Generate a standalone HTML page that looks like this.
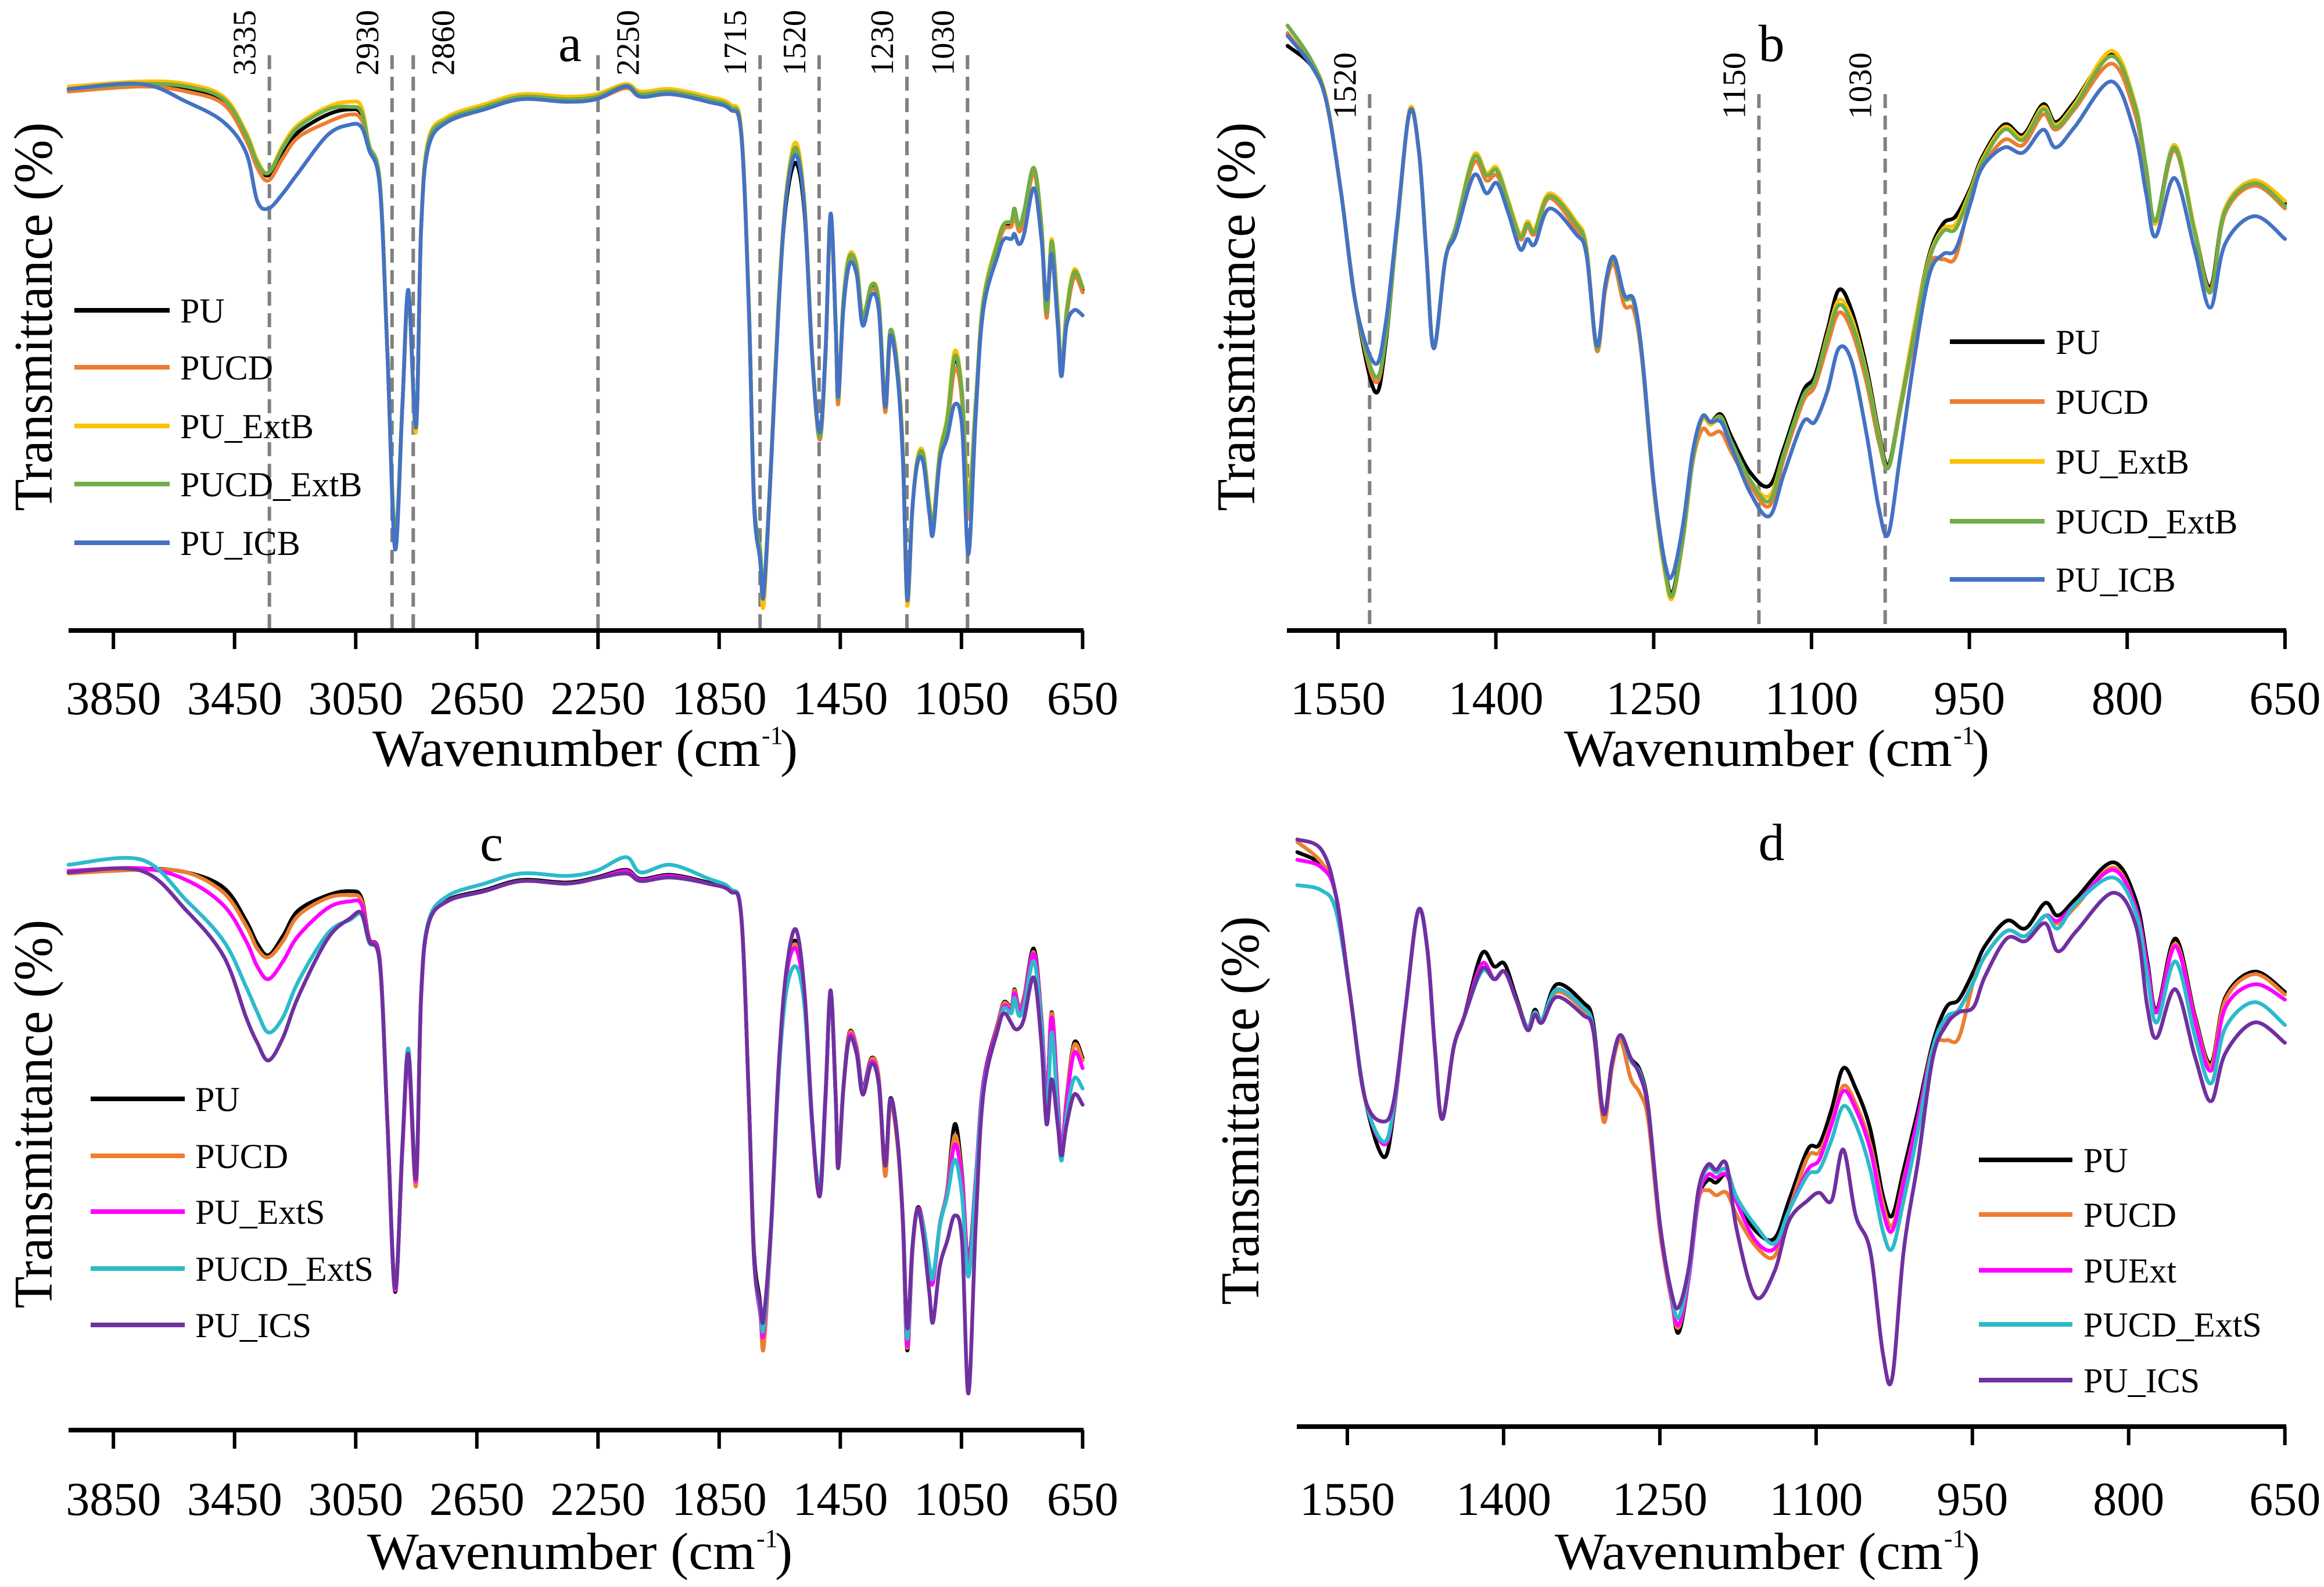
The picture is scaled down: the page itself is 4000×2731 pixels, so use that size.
<!DOCTYPE html>
<html><head><meta charset="utf-8"><title>FTIR spectra</title>
<style>
html,body{margin:0;padding:0;background:#fff;}
svg{display:block;}
text{font-family:"Liberation Serif",serif;fill:#000;}
</style></head>
<body>
<svg id="fig" xmlns="http://www.w3.org/2000/svg" width="4000" height="2731" viewBox="0 0 4000 2731"></svg>
<script>
// ---------- DATA ----------
const xa = [3998,3757,3609,3486,3412,3375,3338,3290,3240,3142,3068,3031,3006,2970,2945,2920,2896,2876,2851,2834,2810,2748,2625,2502,2354,2256,2158,2109,2010,1887,1814,1777,1752,1735,1715,1703,1678,1654,1629,1597,1568,1543,1518,1499,1482,1465,1457,1440,1420,1396,1376,1347,1323,1302,1285,1261,1243,1229,1212,1195,1176,1156,1144,1122,1097,1072,1048,1027,1003,978,929,909,885,875,860,843,811,786,769,752,732,720,703,678,650];
const aPU = [106.5,107.5,106.5,104,97,92,89.5,94,98,101.5,102.5,101.5,95,88,54,18,44,66.5,40,79,96,100.5,103,105,104.5,105,107.2,105.5,106,104.5,103,98,64,26,16,6,34,64,84,92,82,54,38,54,81.5,59,45,64,73,71,61,67.5,64,44,58.5,51,34,6,24,33,34,24,20,34,41,53.5,46,24,44,64,76,79.5,80,82.5,79,82,90.5,79,62,76,62,50.5,62,70,67];
const aPUCD = [106,107,106,103.5,96.5,91,88.5,93,97,100,101.5,100.5,95,88,54,17.5,44,66.5,39.5,79,96,100,102.5,104.5,104,104.5,106.7,105,105.5,104,102.5,97.5,64,26,15.5,5,34,64,85,94,83,54,37.5,54,81.5,59,44.5,64,73,70.5,60.5,67,63.5,43,57.5,50,33.5,5.5,24,33,34,24,20,34,40,51.5,45,22,44,63,75.5,79,79.5,82,78.5,81,90,78.5,61.5,75.5,61.5,50,61.5,69.5,66.5];
const aExtB = [107,108,107.5,105,98,92.5,90,95.5,99.5,103,104,103,95.5,88,54,17,44,66,39,79.5,96.5,101,103.5,105.5,105,105.5,107.5,106,106.5,105,103.5,98.5,64,25,15,5,34,65,86,96,84,55,38,55,82,60,46,65,74,72,62,68,65,45,59,52,35,5,24,34,35,25,21,35,42,55,47,26,45,65,77,80,80.5,83,79.5,82.5,91,80,63,77,63,51,63,71,67.5];
const aCDExtB = [106.5,107.5,107,104.5,97.5,92,90,95,99,102.5,103,102,95.5,88,54,19,44,66.5,40,79,96,100.5,103,105,104.5,105,107.2,105.5,106,104.5,103,98,64,26,16,8,34,64,85,95,83,54.5,38,54.5,81.5,59.5,45.5,64.5,73.5,71.5,61.5,68,64.5,44.5,59,51.5,34.5,7,24,33.5,34.5,24.5,20.5,34.5,41.5,54,46.5,24,44.5,64.5,76.5,80,80.5,83,79.5,82.5,91,79.5,62.5,76.5,62.5,51,62.5,70.5,67.5];
const aICB = [106.5,107.5,104,100,94,84.5,83,86,90,97.5,99.5,99,94.5,87,54,16,44,67,40,79,95,100,102.5,104.5,104,104.5,107,105,105.5,104,102.5,97.5,63,25,14,7,33,63,85,93.5,83,54,39,55,82,60,46,63,72,70,60,66,63,44,58,50,33,6,24,33,33,23,19,33,38,44.5,40,15,42,63,74,77,77,78,76,78,87,77,65,74,60,50,60,63,62];

const cPU = [109.7,110.4,109.7,106.7,100.2,95.7,93.4,97.2,102.2,105.2,106,104.7,96.7,92.2,60.2,27.2,55.2,73.2,48.7,85.2,99.7,104.2,106.2,108.2,107.7,108.7,110.2,108.4,109.2,107.7,106.2,101.2,65.2,35.2,25.2,17.2,40.2,70.2,89.2,96.2,85.2,60.2,46.2,65.2,86.2,65.2,51.7,67.2,78.2,75.2,67.2,73.2,69.2,51.7,65.2,57.2,40.2,15.7,35.2,43.7,40.2,32.2,29.2,40.2,47.2,60.2,50.2,33.2,49.2,68.2,80.2,84.2,83.2,86.7,83.2,85.2,94.7,81.2,65.2,82.2,65.2,54.7,65.2,76.2,73.2];
const cPUCD = [109.5,110.2,109.7,105.7,99.2,94.7,93,96.2,101.2,104.7,105.2,104.2,96.5,92,60,28,55,73,48,85,99.5,104,106,108,107.5,108.5,110,108.2,109,107.5,106,101,65,34,24,16.2,40,70,89,95.5,85,60,46,65,86,65,51.5,67,78,75,66.5,73,69,50,64,56,40,16.2,35,43,39,31.5,29,40,47,58,49.5,33,47,67.5,80,84,83,86.5,83,85,94,81,65,82,65,54.5,65,75.7,72.7];
const cExtS = [110,110.5,108.2,103.2,96.2,91.2,88.7,92.2,97.2,102.7,104,103.4,96.5,92,60,27.5,55,73,49,85,99.5,104,106,108,107.5,108.5,110,108.2,109,107.5,106,101,65,34,23,19.2,40,70,89,94.7,84.5,60,47,65,86,65,52,67,77.5,74.5,67,72.5,68.5,52,65,57,40.5,16.5,35.5,43.5,40,32,29,40,46.5,56.2,49,32.2,49,68,79.5,83.5,82.5,86,82.5,84.5,93.7,80.5,64.5,81.2,64.5,54.5,64.5,74.2,71.2];
const cCDExtS = [111.2,112.2,104.2,96.2,87.2,82.2,78.2,81.2,88.2,97.7,100.4,101.4,96,91.5,60,28,56,75,50,86,100,105,107.5,109.5,109,110,112.7,109.7,111.2,108.5,106.5,101,65,34,24,20.2,40,69,86,91.2,83.2,60,48,66,86,65,52,67,77,74,66.5,72,68,52,65,57,41,18,36,43,40,32.5,30,40,46,53.2,46,30.2,48,67,79,83,82,85,81.5,83.5,92.2,79.5,61.2,78.2,62,53,62,69.2,67.2];
const cICS = [109.7,110,102.2,93.2,81.2,76.2,72.7,77.2,85.2,96.7,100.7,101.7,96.2,91.5,60,28,55.5,74,49.5,85.5,99.5,104,106,108,107.5,108.5,109.5,108,108.7,107.5,106,101,65,34,25,22,41,71,90,98.5,86,61,46,66,86.5,65,51.5,67,77,74,66,72,68,52,65,57,41,20,36,43.5,38,27,21.2,32,37.2,42.2,37,7.2,40,66,79,82,80,79,79,81,89,76,60.2,69,60,54,60,66,64];

const xb = [1598,1575,1561,1547,1533,1515,1505,1494,1482,1473,1466,1459,1448,1438,1421,1409,1399,1388,1377,1370,1363,1349,1324,1314,1304,1296,1288,1278,1269,1261,1250,1239,1232,1222,1213,1204,1196,1186,1176,1158,1140,1126,1108,1097,1085,1074,1062,1048,1036,1027,1016,1002,988,975,963,949,938,917,899,880,868,850,815,793,782,773,755,736,721,707,679,650];
const bPU = [115,111,104,86,64,47,56,79,102,94,74,55.5,73,79,93,89.5,90.5,84,77.5,80,78.5,85.5,80,75,55.5,68,73.5,66,65,54,29,12,7.5,19,34,42,41,42.5,38,31,28.5,36,47,50,59,67,63,52,39,32.5,44,60,74,80,81.5,87,93,99.5,97.5,103.5,100,104,113.5,104,91,80.5,95.5,79,67.5,83,88.5,84];
const bPUCD = [117.5,111,104,86,64,49,57,79,102,94,74,55.5,73,79,92,88.5,89.5,84,77,79.5,78,85,79,74.5,55,67,72,64,63,53,28,11,7,18,33,39.5,38.5,39,35,28.5,24.5,34,45,48,56,62.5,59,49,37,32,43,58,72,73,73.5,85,91,96.5,95.5,101.5,98.5,102.5,111.5,102,90,80,94.5,78.5,67,82,87.5,83];
const bExtB = [119,112,104.5,86,64,50,57,79,102.5,94,74,55.5,73,79.5,93.5,90,91,84.5,78,80.5,79,86,80.5,75.5,55.5,68,73,65.5,64.5,53.5,28.5,11,6.5,18.5,33.5,41.5,40.5,41.5,37,29.5,26.5,35,46,49,58,65,61.5,51,38.5,32,44,60,73.5,79,80,86.5,92.5,99,97,103,99.5,103.5,114,104,91,80,95.5,79,66.5,83,88.5,84.5];
const bCDExtB = [119,112,104,86,64,50,57,79,102,94,74,55.5,73,79.5,93,89.5,90.5,84,77.5,80,78.5,85.5,80,75,55.5,68,73,65.5,64.5,53.5,28.5,11.5,7,18.5,33.5,42,41,42,37,29.5,25.5,35,46,49,57.5,64,60.5,50.5,38,32,43.5,59,73,78.5,79,86,92,98.5,96.5,102.5,99,103,113,103.5,91,80.5,95,78.5,66.5,82.5,88,83.5];
const bICB = [117,111,104,86,64,52.5,60,80,102,94,74,55.5,73,78,89.5,86,88,82,75,77,76,83,78,74,56,68,73.5,66,65,54,29,13,11,21,35,42,41,41,36,27,22.5,31,41,41,47,55.5,53,39,24,19,34,54,70,74,75,84,91,95,94,98.5,95,99,108,98,86,77.5,89,75,63.5,76,81.5,77];

const dPU = [113,110.5,104.5,84.5,64.5,53,62.5,82.5,101.5,93.5,74.5,60.5,74.5,80.5,93,90.5,91,84.5,78.5,82,80,87,83.5,79.5,61.5,71.5,77,72.5,70,62.5,39.5,25.5,18.5,29.5,44.5,48.5,48,49.5,44.5,38.5,37,44.5,54.5,55.5,62.5,70.5,66.5,58.5,45.5,41.5,50.5,62.5,75.5,82.5,84,89.5,94.5,99.5,98,103,100.5,104,111,103.5,91.5,82,96,80.5,71.5,84.5,89.5,85.5];
const dPUCD = [115,111,104.5,84.5,64.5,55.5,63,82.5,101.5,93.5,74.5,60.5,74.5,80.5,91,88,89.5,84,78,81,79.5,85.5,82,78,60,70.5,76,68.5,65.5,60,38.5,25,19.5,29.5,44.5,46.5,45.5,46,41.5,35.5,33.5,42.5,53,54,60,67,63.5,55.5,44,39.5,48.5,61,74.5,76,76.5,87.5,92.5,97.5,96.5,100.5,99,102.5,110,102,90.5,81.5,95,80,71,84,89,85];
const dExt = [111.5,110,104.5,84.5,64.5,55.5,63,82.5,101.5,93.5,74.5,60.5,74.5,80.5,91,88,89.5,84,78.5,81.5,80,86,82.5,78.5,61.5,71.5,77,72,69.5,62,39.5,25.5,20,29.5,45,49.5,49,49.5,44,36.5,35,42.5,50.5,52.5,59.5,66,62.5,54.5,42.5,38.5,48,61,74.5,79.5,82,87.5,92.5,97.5,96.5,100.5,99.5,103,109.5,102,90.5,81.5,94.5,79.5,70,82.5,87,84];
const dCDExtS = [106.5,105.5,101.5,84.5,64.5,56,63.5,82.5,101.5,93.5,74.5,60.5,74.5,80.5,89.5,88,89.5,84,78.5,81.5,80,86,82.5,78.5,61.5,71.5,77,72,69.5,62,40,26,21.5,30.5,46,51,50,50.5,45,39.5,36,42.5,49.5,50.5,56.5,63,59.5,50.5,38.5,35,44.5,58.5,74.5,80.5,82,87.5,92.5,97.5,96.5,100.5,98,103,108,101,88.5,79.5,91.5,76.5,67.5,78.5,83.5,79];
const dICS = [115.5,113.5,104.5,84.5,64.5,60,64.5,82.5,101.5,93.5,74.5,60.5,74.5,80.5,90,88,89.5,84,78,81,79.5,84.5,81,78,61.5,71.5,77,72.5,69,62,40,26.5,23.5,31.5,46.5,51.5,50.5,51.5,38.5,25.5,30.5,40.5,44.5,46,44.5,54.5,41.5,34.5,14.5,9.5,34.5,52.5,72.5,79,81.5,82.5,88.5,96,95.5,99,93.5,97.5,105,98.5,82.5,76.5,86,72.5,64,73.5,79.5,75.5];

const ticksWide = [3850,3450,3050,2650,2250,1850,1450,1050,650];
const ticksNarrow = [1550,1400,1250,1100,950,800,650];
const peaksA = [3335,2930,2860,2250,1715,1520,1230,1030];
const peaksARight = [2860,2250];
const peaksB = [1520,1150,1030];

// ---------- DRAWING ----------
const NS = "http://www.w3.org/2000/svg";
const svg = document.getElementById('fig');
function mk(tag, attrs, parent){
  const e = document.createElementNS(NS, tag);
  for (const k in attrs) e.setAttribute(k, attrs[k]);
  (parent||svg).appendChild(e);
  return e;
}
function smoothPath(pts){
  let d = 'M' + pts[0][0].toFixed(1) + ',' + pts[0][1].toFixed(1);
  for (let i=0;i<pts.length-1;i++){
    const p0 = pts[i-1]||pts[i], p1 = pts[i], p2 = pts[i+1], p3 = pts[i+2]||pts[i+1];
    const c1x = p1[0]+(p2[0]-p0[0])/6, c1y = p1[1]+(p2[1]-p0[1])/6;
    const c2x = p2[0]-(p3[0]-p1[0])/6, c2y = p2[1]-(p3[1]-p1[1])/6;
    d += 'C'+c1x.toFixed(1)+','+c1y.toFixed(1)+' '+c2x.toFixed(1)+','+c2y.toFixed(1)+' '+p2[0].toFixed(1)+','+p2[1].toFixed(1);
  }
  return d;
}
const K = 8.749;
const panels = [
  {id:'a', x0:118, x1:1865, axisY:1085, xs:w=>117+(4000-w)*0.5213, xv:xa, ticks:ticksWide, tickY:1229,
   letter:[981,105], ytitle:[58,545], xtitle:641, xtitleY:1318,
   series:[['PU',aPU,'#000000'],['PUCD',aPUCD,'#ED7D31'],['PU_ExtB',aExtB,'#FFC000'],['PUCD_ExtB',aCDExtB,'#70AD47'],['PU_ICB',aICB,'#4472C4']],
   leg:{x0:128,x1:292,tx:310,ys:[534,632,733,833,934]}, peaks:peaksA, peakTop:95, labTop:17, labBot:130},
  {id:'b', x0:2215, x1:3935, axisY:1085, xs:w=>2303+(1550-w)*1.811, xv:xb, ticks:ticksNarrow, tickY:1229,
   letter:[3049,105], ytitle:[2128,545], xtitle:2692, xtitleY:1318,
   series:[['PU',bPU,'#000000'],['PUCD',bPUCD,'#ED7D31'],['PU_ExtB',bExtB,'#FFC000'],['PUCD_ExtB',bCDExtB,'#70AD47'],['PU_ICB',bICB,'#4472C4']],
   leg:{x0:3356,x1:3519,tx:3538,ys:[588,691,794,897,997]}, peaks:peaksB, peakTop:162, labTop:90, labBot:205},
  {id:'c', x0:118, x1:1865, axisY:2461, xs:w=>117+(4000-w)*0.5213, xv:xa, ticks:ticksWide, tickY:2607,
   letter:[846,1481], ytitle:[58,1917], xtitle:632, xtitleY:2700,
   series:[['PU',cPU,'#000000'],['PUCD',cPUCD,'#ED7D31'],['PU_ExtS',cExtS,'#FF00FF'],['PUCD_ExtS',cCDExtS,'#2BBBCB'],['PU_ICS',cICS,'#7030A0']],
   leg:{x0:156,x1:318,tx:336,ys:[1891,1989,2085,2183,2280]}, peaks:[]},
  {id:'d', x0:2232, x1:3935, axisY:2455, xs:w=>2319+(1550-w)*1.793, xv:xb, ticks:ticksNarrow, tickY:2607,
   letter:[3049,1480], ytitle:[2135,1911], xtitle:2676, xtitleY:2700,
   series:[['PU',dPU,'#000000'],['PUCD',dPUCD,'#ED7D31'],['PUExt',dExt,'#FF00FF'],['PUCD_ExtS',dCDExtS,'#2BBBCB'],['PU_ICS',dICS,'#7030A0']],
   leg:{x0:3406,x1:3567,tx:3586,ys:[1996,2090,2186,2279,2375]}, peaks:[]}
];

panels.forEach(p=>{
  const g = mk('g',{});
  
  
  const ys = T => p.axisY - T*K;

  // peak dashed lines
  p.peaks.forEach(w=>{
    const x = p.xs(w);
    const ln = mk('line',{x1:x,y1:p.peakTop,x2:x,y2:p.axisY,stroke:'#808080','stroke-width':6,'stroke-dasharray':'24 13'},g);
    
    
    const tx = peaksARight.includes(w) && p.id==='a' ? x+70 : x-24;
    const t = mk('text',{x:0,y:0,'font-size':56,'text-anchor':'start',textLength:p.labBot-p.labTop,lengthAdjust:'spacingAndGlyphs',
      transform:`translate(${tx},${p.labBot}) rotate(-90)`},g);
    t.textContent = String(w);
    
    
  });

  // series
  p.series.forEach(([name,vals,col])=>{
    const pts = [];
    for(let i=0;i<p.xv.length && i<vals.length;i++){
      pts.push([p.xs(p.xv[i]), ys(vals[i])]);
    }
    const path = mk('path',{d:smoothPath(pts),fill:'none',stroke:col,'stroke-width':6.5,'stroke-linejoin':'round','stroke-linecap':'round'},g);
    
    
  });

  // axis
  const ax = mk('line',{x1:p.x0,y1:p.axisY,x2:p.x1,y2:p.axisY,stroke:'#000','stroke-width':8},g);
  
  
  p.ticks.forEach(t=>{
    const x = p.xs(t);
    const tk = mk('line',{x1:x,y1:p.axisY,x2:x,y2:p.axisY+32,stroke:'#000','stroke-width':6},g);
    
    
    const lb = mk('text',{x:x,y:p.tickY,'font-size':82,'text-anchor':'middle'},g);
    lb.textContent = String(t);
    
    
  });

  // x title
  const xt = mk('text',{x:p.xtitle,y:p.xtitleY,'font-size':90,textLength:668,lengthAdjust:'spacingAndGlyphs'},g);
  xt.textContent = 'Wavenumber (cm';
  
  
  const sup = mk('text',{x:p.xtitle+670,y:p.xtitleY-38,'font-size':44},g);
  sup.textContent = '-1';
  
  
  const cp = mk('text',{x:p.xtitle+702,y:p.xtitleY,'font-size':90},g);
  cp.textContent = ')';
  
  

  // y title
  const yt = mk('text',{x:0,y:0,'font-size':94,'text-anchor':'middle',textLength:669,lengthAdjust:'spacingAndGlyphs',
    transform:`translate(${p.ytitle[0]+31},${p.ytitle[1]}) rotate(-90)`},g);
  yt.textContent = 'Transmittance (%)';
  
  

  // panel letter
  const lt = mk('text',{x:p.letter[0],y:p.letter[1],'font-size':90,'text-anchor':'middle'},g);
  lt.textContent = p.id;
  
  

  // legend
  p.series.forEach(([name,vals,col],i)=>{
    const y = p.leg.ys[i];
    const ll = mk('line',{x1:p.leg.x0,y1:y,x2:p.leg.x1,y2:y,stroke:col,'stroke-width':8},g);
    
    
    const lt2 = mk('text',{x:p.leg.tx,y:y+21,'font-size':60},g);
    lt2.textContent = name;
    
    
  });
});
</script>
</body></html>
